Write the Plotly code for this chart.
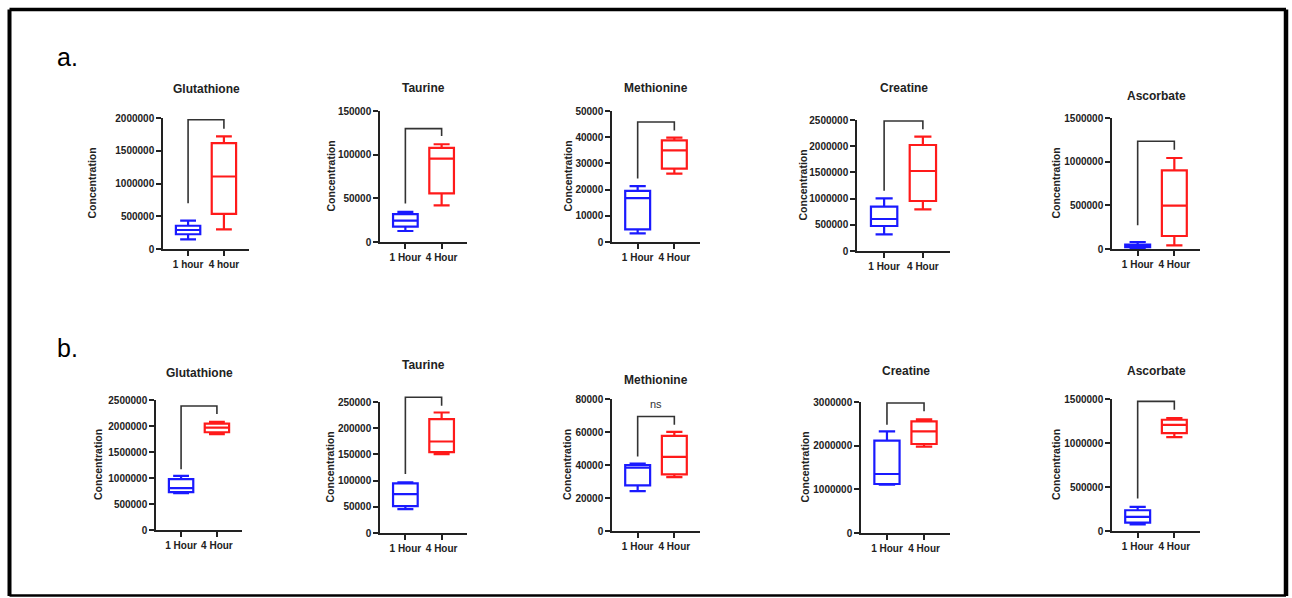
import plotly.graph_objects as go

W, H = 1292, 598

# ---- data -------------------------------------------------------------
metabolites = ["Glutathione", "Taurine", "Methionine", "Creatine", "Ascorbate"]
groups = ["1 Hour", "4 Hour"]
groups_first = ["1 hour", "4 hour"]

# five-number summaries per panel: [min, q1, median, q3, max]
a_1h = [
    [148000, 225000, 290000, 355000, 434000],
    [12600, 17500, 24400, 32000, 34600],
    [3300, 4800, 16750, 19500, 21300],
    [318000, 477000, 611000, 846000, 1005000],
    [5000, 20000, 35000, 50000, 80000],
]
a_4h = [
    [301000, 536000, 1107000, 1617000, 1720000],
    [41900, 55600, 95500, 107700, 111900],
    [26100, 28000, 35000, 38800, 39800],
    [795000, 954000, 1527000, 2023000, 2182000],
    [42000, 149000, 496000, 901000, 1042000],
]
b_1h = [
    [710000, 729000, 806000, 978000, 1042000],
    [45400, 51200, 74200, 94600, 96500],
    [24200, 27600, 38400, 40000, 40800],
    [1107000, 1122000, 1351000, 2115000, 2328000],
    [76000, 95000, 160000, 236000, 274000],
]
b_4h = [
    [1841000, 1880000, 1969000, 2046000, 2078000],
    [150400, 154200, 174600, 217400, 230000],
    [32700, 34300, 44900, 57700, 60100],
    [1977000, 2038000, 2328000, 2557000, 2603000],
    [1066000, 1112000, 1207000, 1264000, 1283000],
]

# y-axis tick values per panel
a_ticks = [
    [0, 500000, 1000000, 1500000, 2000000],
    [0, 50000, 100000, 150000],
    [0, 10000, 20000, 30000, 40000, 50000],
    [0, 500000, 1000000, 1500000, 2000000, 2500000],
    [0, 500000, 1000000, 1500000],
]
b_ticks = [
    [0, 500000, 1000000, 1500000, 2000000, 2500000],
    [0, 50000, 100000, 150000, 200000, 250000],
    [0, 20000, 40000, 60000, 80000],
    [0, 1000000, 2000000, 3000000],
    [0, 500000, 1000000, 1500000],
]

# comparison brackets: [bracket top, left leg end, right leg end]
a_brackets = [
    [1974000, 699000, 1837000],
    [129800, 44200, 121500],
    [45800, 24200, 42600],
    [2481000, 1151000, 2322000],
    [1233000, 271000, 1137000],
]
b_brackets = [
    [2385000, 1170000, 2231000],
    [259000, 112500, 243000],
    [69400, 45100, 64400],
    [2977000, 2481000, 2786000],
    [1473000, 369000, 1378000],
]
b_bracket_labels = ["", "", "ns", "", ""]

# ---- layout geometry (pixels): axis-left, axis-right, axis-top, axis-zero, title-y, ytitle-x
a_geom = [
    (163, 249, 118, 249, 89, 92),
    (380, 467, 111, 242, 88, 330),
    (612, 700, 111, 242, 88, 567),
    (857, 950, 120, 251, 88, 803),
    (1112, 1200, 118, 249, 96, 1056),
]
b_geom = [
    (156, 242, 400, 530, 373, 98),
    (380, 467, 402, 533, 365, 329),
    (612, 700, 399, 531, 380, 567),
    (861, 950, 402, 533, 371, 804),
    (1112, 1200, 399, 531, 371, 1056),
]

BLUE = "#1a1aff"
RED = "#ff1a1a"
INK = "#222222"
FONT = "Liberation Sans, Arial, sans-serif"
XR = [-0.7, 1.7]

fig = go.Figure()
layout = dict(
    width=W, height=H, margin=dict(l=0, r=0, t=0, b=0, autoexpand=False),
    paper_bgcolor="white", plot_bgcolor="white", showlegend=False,
)
shapes = []
annotations = []


def px_x(p):
    return p / W


def px_y(p):
    return 1 - p / H


panels = []
for i in range(5):
    panels.append((metabolites[i], a_1h[i], a_4h[i], a_ticks[i], a_brackets[i], "",
                   a_geom[i], groups_first if i == 0 else groups))
for i in range(5):
    panels.append((metabolites[i], b_1h[i], b_4h[i], b_ticks[i], b_brackets[i], b_bracket_labels[i],
                   b_geom[i], groups))

for k, (name, g1, g2, ticks, br, brlab, geom, cats) in enumerate(panels):
    n = k + 1
    suffix = "" if n == 1 else str(n)
    xa, ya = f"x{suffix}", f"y{suffix}"
    xl, xr, yt, yz, ty, ytx = geom
    top = ticks[-1]

    for xpos, stats, col in ((0, g1, BLUE), (1, g2, RED)):
        fig.add_trace(go.Box(
            x=[xpos], lowerfence=[stats[0]], q1=[stats[1]], median=[stats[2]],
            q3=[stats[3]], upperfence=[stats[4]],
            width=0.68, whiskerwidth=0.65, boxpoints=False,
            line=dict(color=col, width=2.2), fillcolor="rgba(255,255,255,0)",
            xaxis=xa, yaxis=ya, hoverinfo="skip",
        ))

    layout[f"xaxis{suffix}"] = dict(
        domain=[px_x(xl), px_x(xr)], anchor=ya, range=XR, automargin=False,
        tickvals=[0, 1], ticktext=cats, ticks="outside", ticklen=5, tickwidth=1.5,
        tickcolor=INK, showline=True, linecolor=INK, linewidth=1.5,
        showgrid=False, zeroline=False, fixedrange=True,
        tickfont=dict(family=FONT, size=10, color=INK, weight="bold"),
    )
    layout[f"yaxis{suffix}"] = dict(
        domain=[px_y(yz), px_y(yt)], anchor=xa, range=[0, top], automargin=False,
        tickvals=ticks, tickformat="d", ticks="outside", ticklen=5, tickwidth=1.5,
        tickcolor=INK, showline=True, linecolor=INK, linewidth=1.5,
        showgrid=False, zeroline=False, fixedrange=True,
        tickfont=dict(family=FONT, size=10, color=INK, weight="bold"),
    )

    # bracket, placed in axis-domain fractions from the axis ranges
    fx0 = (0 - XR[0]) / (XR[1] - XR[0])
    fx1 = (1 - XR[0]) / (XR[1] - XR[0])
    btop, bl, brr = (v / top for v in br)
    shapes.append(dict(
        type="path", xref=f"{xa} domain", yref=f"{ya} domain",
        path=f"M {fx0} {bl} L {fx0} {btop} L {fx1} {btop} L {fx1} {brr}",
        line=dict(color="#333333", width=1.6),
    ))
    if brlab:
        annotations.append(dict(
            xref=xa, yref=ya, x=0.5, y=br[0], yshift=4, text=brlab, showarrow=False,
            yanchor="bottom", font=dict(family=FONT, size=11, color="#333333"),
        ))

    # panel title
    annotations.append(dict(
        xref="paper", yref="paper", x=px_x((xl + xr) / 2), y=px_y(ty), text=name,
        showarrow=False, xanchor="center", yanchor="middle",
        font=dict(family=FONT, size=12, color=INK, weight="bold"),
    ))
    # y-axis title
    annotations.append(dict(
        xref="paper", yref="paper", x=px_x(ytx), y=px_y((yt + yz) / 2), text="Concentration",
        showarrow=False, textangle=-90, xanchor="center", yanchor="middle",
        font=dict(family=FONT, size=10.5, color=INK, weight="bold"),
    ))

# row labels
for lab, yb in (("a.", 57), ("b.", 348)):
    annotations.append(dict(
        xref="paper", yref="paper", x=px_x(55), y=px_y(yb), text=lab, showarrow=False,
        xanchor="left", yanchor="middle", font=dict(family=FONT, size=25, color="black"),
    ))

# outer frame
frame = [
    (9.5, 9.5, 1286, 9.5, 3.5),
    (9.5, 9.5, 9.5, 596, 4),
    (1286, 9.5, 1286, 596, 4.5),
    (9.5, 595.5, 1286, 595.5, 2.5),
]
for x0, y0, x1, y1, w in frame:
    shapes.append(dict(type="line", xref="paper", yref="paper",
                       x0=px_x(x0), y0=px_y(y0), x1=px_x(x1), y1=px_y(y1),
                       line=dict(color="black", width=w)))

layout["shapes"] = shapes
layout["annotations"] = annotations
fig.update_layout(**layout)
fig.write_html("out.html")
